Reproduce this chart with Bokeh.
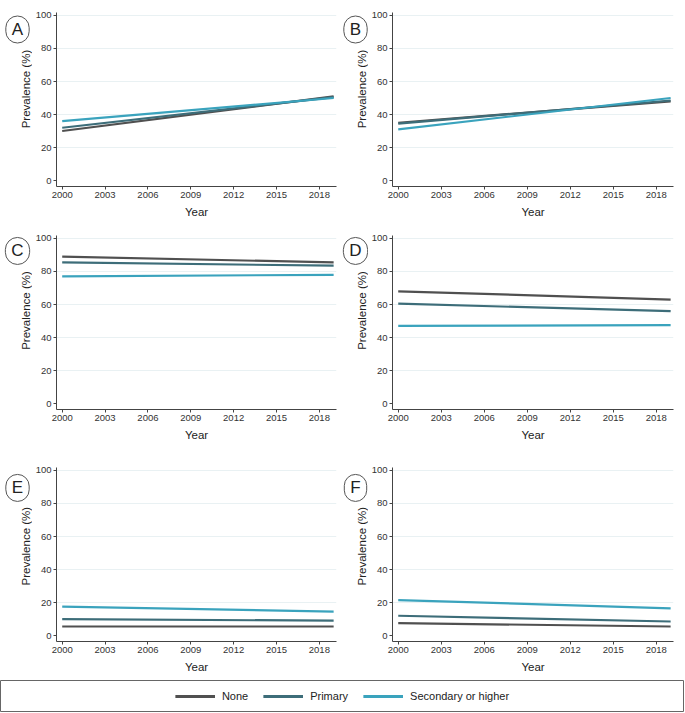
import math
from bokeh.plotting import figure
from bokeh.layouts import column, row
from bokeh.models import Label, Legend, LegendItem, FixedTicker, Range1d
from bokeh.embed import file_html
from bokeh.resources import INLINE

years = [2000, 2019]
series_names = ["None", "Primary", "Secondary or higher"]
colors = ["#505050", "#3d6d79", "#3aa3bd"]
panel_letters = ["A", "B", "C", "D", "E", "F"]
y_title = "Prevalence (%)"
x_title = "Year"

a_none = [30, 51]
a_primary = [32, 50.5]
a_secondary = [36, 50]
b_none = [35, 48]
b_primary = [34.5, 48.5]
b_secondary = [31, 50]
c_none = [89, 85.5]
c_primary = [85.5, 83.5]
c_secondary = [77, 78]
d_none = [68, 63]
d_primary = [60.5, 56]
d_secondary = [47, 47.5]
e_none = [5.5, 5.5]
e_primary = [10, 9]
e_secondary = [17.5, 14.5]
f_none = [7.5, 5.5]
f_primary = [12, 8.5]
f_secondary = [21.5, 16.5]

panels = [
    (a_none, a_primary, a_secondary),
    (b_none, b_primary, b_secondary),
    (c_none, c_primary, c_secondary),
    (d_none, d_primary, d_secondary),
    (e_none, e_primary, e_secondary),
    (f_none, f_primary, f_secondary),
]

x_ticks = [2000, 2003, 2006, 2009, 2012, 2015, 2018]
y_ticks = [0, 20, 40, 60, 80, 100]
FONT = "Liberation Sans"

row_heights = [225, 225, 230]
row_tops = [12, 10, 17]
FRAME_H = 174
strip_w = [32, 28]
fig_w = [308, 316]
fig_left = [23, 23]
fig_right = [4, 11]
letter_x = [17, 15]
ytitle_x = [25, 21]

rows = []
for r in range(3):
    items_row = []
    for c in range(2):
        i = r * 2 + c
        letter, data = panel_letters[i], panels[i]
        h = row_heights[r]
        top = row_tops[r]

        # left strip: panel letter in a circle and the y-axis title
        s = figure(width=strip_w[c], height=h, output_backend="svg", toolbar_location=None,
                   x_range=Range1d(0, strip_w[c]), y_range=Range1d(h, 0), min_border=0)
        s.axis.visible = False
        s.grid.visible = False
        s.outline_line_color = None
        s.add_layout(Label(x=letter_x[c], y=top + 10, text=letter, text_font=FONT,
                           text_font_size="17px", text_color="#222222",
                           text_align="center", text_baseline="middle",
                           border_line_color="#555555", border_line_width=1,
                           background_fill_color="white",
                           padding=(6, 4), border_radius=13))
        s.add_layout(Label(x=ytitle_x[c], y=top + FRAME_H / 2, text=y_title, text_font=FONT,
                           text_font_size="11.5px", text_color="#222222",
                           text_align="center", text_baseline="middle",
                           angle=math.pi / 2))
        items_row.append(s)

        p = figure(width=fig_w[c], height=h, output_backend="svg",
                   toolbar_location=None,
                   x_range=Range1d(1999.6, 2019.2), y_range=Range1d(-3.6, 101.8),
                   min_border_left=fig_left[c], min_border_right=fig_right[c],
                   min_border_top=top, min_border_bottom=h - top - FRAME_H)
        p.outline_line_color = None
        p.xgrid.grid_line_color = None
        p.ygrid.grid_line_color = "#e9f1f3"
        p.ygrid.ticker = FixedTicker(ticks=[20, 40, 60, 80, 100])
        p.xaxis.ticker = FixedTicker(ticks=x_ticks)
        p.yaxis.ticker = FixedTicker(ticks=y_ticks)
        for ax in (p.xaxis[0], p.yaxis[0]):
            ax.axis_line_color = "#444444"
            ax.major_tick_line_color = "#444444"
            ax.minor_tick_line_color = None
            ax.major_tick_in = 0
            ax.major_tick_out = 3
            ax.major_label_standoff = 2
            ax.major_label_text_font = FONT
            ax.major_label_text_font_size = "9.5px"
            ax.major_label_text_color = "#333333"
            ax.axis_label_text_font = FONT
            ax.axis_label_text_font_size = "11.5px"
            ax.axis_label_text_font_style = "normal"
            ax.axis_label_text_color = "#222222"
        p.xaxis.axis_label = x_title
        p.xaxis.axis_label_standoff = 5
        p.yaxis.major_label_orientation = "horizontal"
        for vals, col in zip(data, colors):
            p.line(years, vals, line_color=col, line_width=2.2)
        items_row.append(p)
    rows.append(row(*items_row, spacing=0))

lg = figure(width=684, height=32, output_backend="svg", toolbar_location=None,
            x_range=Range1d(0, 1), y_range=Range1d(0, 1), min_border=0)
lg.axis.visible = False
lg.grid.visible = False
lg.outline_line_color = "#666666"
items = []
for name, col in zip(series_names, colors):
    rr = lg.line(x=years, y=a_none, line_color=col, line_width=3)
    items.append(LegendItem(label=name, renderers=[rr]))
legend = Legend(items=items, orientation="horizontal", location="center",
                border_line_color=None, background_fill_alpha=0,
                label_text_font=FONT, label_text_font_size="11px",
                label_text_color="#222222", glyph_width=40, spacing=15,
                label_standoff=7, padding=0, margin=0)
lg.add_layout(legend, "center")

layout = column(*rows, lg, spacing=0)

open("out.html", "w").write(file_html(layout, INLINE))
